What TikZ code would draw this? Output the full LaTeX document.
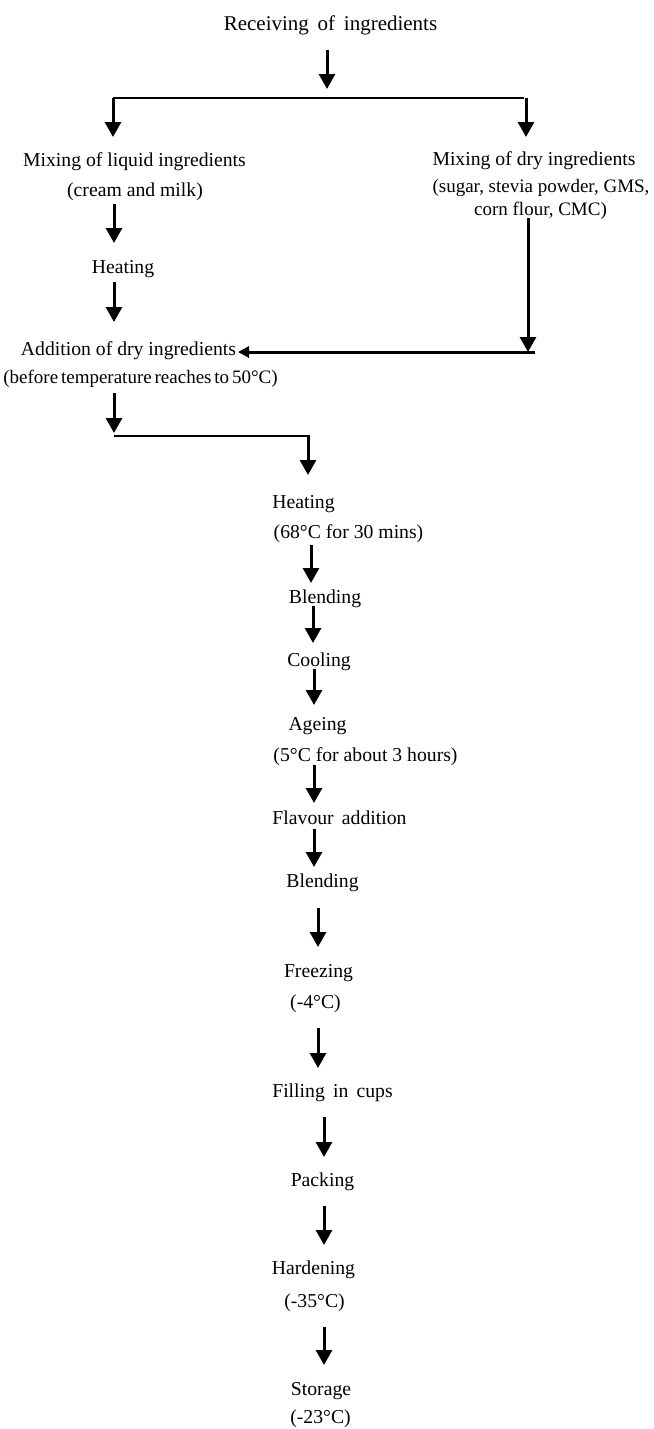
\documentclass[tikz,border=0pt]{standalone}
\usepackage{fontspec}
\setmainfont{Liberation Serif}
\usetikzlibrary{arrows.meta}
\begin{document}
\begin{tikzpicture}[x=1pt,y=-1pt,
  lbl/.style={anchor=base, inner sep=0pt, font=\fontsize{19.7}{22}\selectfont},
  lblsm/.style={anchor=base, inner sep=0pt, font=\fontsize{19}{22}\selectfont},
  arr/.style={line width=3pt, -{Triangle[width=16pt,length=15pt]}},
  arrsmall/.style={line width=3pt, -{Triangle[width=11pt,length=11pt]}},
  conn/.style={line width=2.5pt}]
\useasboundingbox (0,0) rectangle (653,1429);

% text nodes
\node[lbl, font=\fontsize{21}{24}\selectfont] (title) at (330.5,31) {Receiving\, of\, ingredients};
\node[lbl] (mixliq) at (134.5,166) {Mixing of liquid ingredients};
\node[lbl] (cream) at (135,196) {(cream and milk)};
\node[lbl] (mixdry) at (534,165) {Mixing of dry ingredients};
\node[lblsm] (sugar) at (541,192) {(sugar, stevia powder, GMS,};
\node[lblsm] (corn) at (540.5,215) {corn flour, CMC)};
\node[lbl] (heat1) at (123,273) {Heating};
\node[lbl] (add) at (128.5,355) {Addition of dry ingredients};
\node[lblsm] (before) at (140.5,383) {\spaceskip=0.15em\relax(before temperature reaches to 50°C)};
\node[lbl] (heat2) at (303.5,508) {Heating};
\node[lbl] (heat2b) at (348.5,538) {(68°C for 30 mins)};
\node[lbl] (blend1) at (325,603) {Blending};
\node[lbl] (cool) at (319,666) {Cooling};
\node[lbl] (age) at (317.5,730) {Ageing};
\node[lbl] (ageb) at (365.5,761) {(5°C for about 3 hours)};
\node[lbl] (flav) at (339.5,824) {Flavour\, addition};
\node[lbl] (blend2) at (322.5,887) {Blending};
\node[lbl] (freeze) at (318.5,977) {Freezing};
\node[lbl] (freezeb) at (315.5,1008) {(-4°C)};
\node[lbl] (fill) at (332.5,1097) {Filling\, in\, cups};
\node[lbl] (pack) at (322.5,1186) {Packing};
\node[lbl] (hard) at (313.5,1274) {Hardening};
\node[lbl] (hardb) at (314.5,1307) {(-35°C)};
\node[lbl] (store) at (321,1395) {Storage};
\node[lbl] (storeb) at (320.5,1423) {(-23°C)};

% connector points
\coordinate (t0) at (327,50);   \coordinate (t1) at (327,89);
\coordinate (jL) at (113,98);   \coordinate (jR) at (524,98);
\coordinate (aL) at (113,137);  \coordinate (bR) at (526,98); \coordinate (aR) at (526,137);
\coordinate (c0) at (114,204);  \coordinate (c1) at (114,243);
\coordinate (h0) at (114,282);  \coordinate (h1) at (114,322);
\coordinate (d0) at (528,218);  \coordinate (d1) at (528,352);
\coordinate (e0) at (535,352);  \coordinate (e1) at (238,352);
\coordinate (f0) at (114,393);  \coordinate (f1) at (114,433);
\coordinate (g0) at (114,436);  \coordinate (g1) at (310,436);
\coordinate (g2) at (308,436);  \coordinate (g3) at (308,475);

% connectors
\draw[arr] (t0) -- (t1);
\draw[conn] (jL) -- (jR);
\draw[arr] (jL) -- (aL);
\draw[arr] (bR) -- (aR);
\draw[arr] (c0) -- (c1);
\draw[arr] (h0) -- (h1);
\draw[arr] (d0) -- (d1);
\draw[arrsmall] (e0) -- (e1);
\draw[arr] (f0) -- (f1);
\draw[conn] (g0) -- (g1);
\draw[arr] (g2) -- (g3);

\foreach \x/\ya/\yb in {311/545/583, 313/606/643, 314/669/705, 314/765/803,
  314/829/867, 318/908/947, 318/1028/1068, 324/1117/1157, 324/1206/1245, 324/1327/1365}
  \draw[arr] (\x,\ya) -- (\x,\yb);
\end{tikzpicture}
\end{document}
